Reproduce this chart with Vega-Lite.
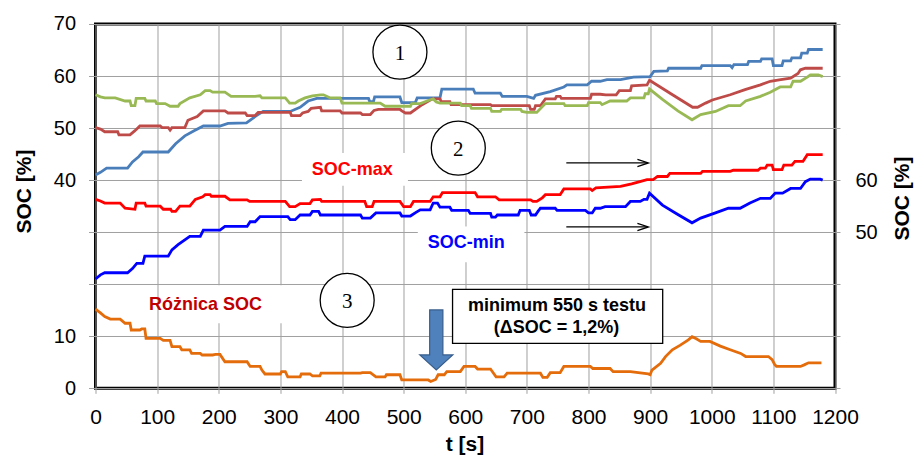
{
  "$schema": "https://vega.github.io/schema/vega-lite/v6.json",
  "width": 739.5,
  "height": 364.3,
  "autosize": {"type": "none"},
  "padding": {"left": 95.5, "top": 24, "right": 83, "bottom": 70},
  "config": {
    "font": "Liberation Sans",
    "view": {"stroke": "#000000", "strokeWidth": 3},
    "axis": {
      "domain": false,
      "gridColor": "#A0A0A0",
      "gridWidth": 1,
      "gridOpacity": 1,
      "tickColor": "#A0A0A0",
      "tickWidth": 1,
      "labelColor": "#000000",
      "labelFontSize": 20,
      "labelFont": "Liberation Sans",
      "titleFont": "Liberation Sans",
      "titleFontSize": 20,
      "titleFontWeight": "bold",
      "titleColor": "#000000",
      "labelOverlap": false
    }
  },
  "datasets": {
    "left": [
      {"s":"1","t":0,"v":41.0},{"s":"1","t":8,"v":41.5},{"s":"1","t":18,"v":42.3},{"s":"1","t":52,"v":42.3},{"s":"1","t":60,"v":43.5},{"s":"1","t":70,"v":44.5},{"s":"1","t":77,"v":45.4},{"s":"1","t":118,"v":45.4},{"s":"1","t":130,"v":47.0},{"s":"1","t":145,"v":48.5},{"s":"1","t":160,"v":49.5},{"s":"1","t":175,"v":50.4},{"s":"1","t":202,"v":50.4},{"s":"1","t":215,"v":50.9},{"s":"1","t":245,"v":51.0},{"s":"1","t":260,"v":52.3},{"s":"1","t":272,"v":53.2},{"s":"1","t":316,"v":53.2},{"s":"1","t":332,"v":54.0},{"s":"1","t":345,"v":55.2},{"s":"1","t":359,"v":55.7},{"s":"1","t":443,"v":55.7},{"s":"1","t":445,"v":55.1},{"s":"1","t":451,"v":55.1},{"s":"1","t":453,"v":56.0},{"s":"1","t":494,"v":56.0},{"s":"1","t":497,"v":54.9},{"s":"1","t":519,"v":54.9},{"s":"1","t":522,"v":55.8},{"s":"1","t":559,"v":55.8},{"s":"1","t":562,"v":57.5},{"s":"1","t":613,"v":57.5},{"s":"1","t":616,"v":56.7},{"s":"1","t":657,"v":56.7},{"s":"1","t":660,"v":56.1},{"s":"1","t":700,"v":56.1},{"s":"1","t":711,"v":55.7},{"s":"1","t":714,"v":56.3},{"s":"1","t":738,"v":57.0},{"s":"1","t":760,"v":57.9},{"s":"1","t":765,"v":58.3},{"s":"1","t":798,"v":58.3},{"s":"1","t":805,"v":59.0},{"s":"1","t":819,"v":59.0},{"s":"1","t":830,"v":59.3},{"s":"1","t":852,"v":59.3},{"s":"1","t":873,"v":59.8},{"s":"1","t":900,"v":59.9},{"s":"1","t":906,"v":60.9},{"s":"1","t":928,"v":61.0},{"s":"1","t":930,"v":61.5},{"s":"1","t":982,"v":61.5},{"s":"1","t":984,"v":62.0},{"s":"1","t":1030,"v":62.0},{"s":"1","t":1033,"v":61.6},{"s":"1","t":1036,"v":62.2},{"s":"1","t":1058,"v":62.2},{"s":"1","t":1060,"v":62.8},{"s":"1","t":1079,"v":62.8},{"s":"1","t":1081,"v":63.3},{"s":"1","t":1098,"v":63.3},{"s":"1","t":1100,"v":62.0},{"s":"1","t":1114,"v":62.0},{"s":"1","t":1116,"v":62.9},{"s":"1","t":1128,"v":62.9},{"s":"1","t":1130,"v":63.5},{"s":"1","t":1144,"v":63.5},{"s":"1","t":1146,"v":64.4},{"s":"1","t":1155,"v":64.4},{"s":"1","t":1157,"v":65.1},{"s":"1","t":1180,"v":65.1},
      {"s":"2","t":0,"v":50.1},{"s":"2","t":8,"v":49.8},{"s":"2","t":15,"v":49.3},{"s":"2","t":36,"v":49.3},{"s":"2","t":38,"v":48.7},{"s":"2","t":56,"v":48.7},{"s":"2","t":64,"v":49.5},{"s":"2","t":72,"v":50.4},{"s":"2","t":105,"v":50.4},{"s":"2","t":108,"v":50.1},{"s":"2","t":118,"v":50.1},{"s":"2","t":121,"v":49.6},{"s":"2","t":124,"v":50.1},{"s":"2","t":145,"v":50.1},{"s":"2","t":150,"v":51.5},{"s":"2","t":165,"v":52.2},{"s":"2","t":175,"v":53.3},{"s":"2","t":210,"v":53.3},{"s":"2","t":215,"v":52.9},{"s":"2","t":243,"v":52.9},{"s":"2","t":246,"v":52.4},{"s":"2","t":259,"v":52.4},{"s":"2","t":264,"v":53.0},{"s":"2","t":316,"v":53.0},{"s":"2","t":318,"v":52.4},{"s":"2","t":332,"v":52.4},{"s":"2","t":336,"v":52.9},{"s":"2","t":345,"v":53.2},{"s":"2","t":350,"v":53.8},{"s":"2","t":365,"v":54.0},{"s":"2","t":367,"v":53.3},{"s":"2","t":397,"v":53.3},{"s":"2","t":400,"v":52.9},{"s":"2","t":430,"v":52.9},{"s":"2","t":433,"v":52.6},{"s":"2","t":446,"v":52.6},{"s":"2","t":452,"v":53.4},{"s":"2","t":459,"v":53.6},{"s":"2","t":494,"v":53.6},{"s":"2","t":497,"v":53.3},{"s":"2","t":503,"v":52.9},{"s":"2","t":511,"v":52.9},{"s":"2","t":530,"v":54.5},{"s":"2","t":546,"v":55.6},{"s":"2","t":559,"v":55.6},{"s":"2","t":561,"v":55.1},{"s":"2","t":575,"v":55.1},{"s":"2","t":577,"v":54.5},{"s":"2","t":641,"v":54.5},{"s":"2","t":643,"v":54.3},{"s":"2","t":704,"v":54.3},{"s":"2","t":706,"v":53.6},{"s":"2","t":712,"v":53.6},{"s":"2","t":714,"v":54.3},{"s":"2","t":722,"v":54.3},{"s":"2","t":730,"v":55.6},{"s":"2","t":746,"v":55.6},{"s":"2","t":748,"v":56.1},{"s":"2","t":754,"v":56.1},{"s":"2","t":756,"v":55.7},{"s":"2","t":803,"v":55.7},{"s":"2","t":805,"v":56.5},{"s":"2","t":819,"v":56.5},{"s":"2","t":828,"v":56.4},{"s":"2","t":845,"v":56.4},{"s":"2","t":850,"v":57.2},{"s":"2","t":868,"v":57.2},{"s":"2","t":870,"v":58.1},{"s":"2","t":895,"v":58.3},{"s":"2","t":899,"v":59.2},{"s":"2","t":935,"v":56.5},{"s":"2","t":969,"v":54.0},{"s":"2","t":977,"v":54.0},{"s":"2","t":990,"v":54.8},{"s":"2","t":1001,"v":55.4},{"s":"2","t":1030,"v":56.4},{"s":"2","t":1054,"v":57.4},{"s":"2","t":1079,"v":58.3},{"s":"2","t":1095,"v":59.0},{"s":"2","t":1112,"v":59.3},{"s":"2","t":1128,"v":59.6},{"s":"2","t":1140,"v":60.5},{"s":"2","t":1144,"v":61.2},{"s":"2","t":1152,"v":61.5},{"s":"2","t":1180,"v":61.5},
      {"s":"3","t":0,"v":56.4},{"s":"3","t":8,"v":56.0},{"s":"3","t":15,"v":55.8},{"s":"3","t":32,"v":55.8},{"s":"3","t":48,"v":55.2},{"s":"3","t":56,"v":55.2},{"s":"3","t":58,"v":54.3},{"s":"3","t":64,"v":54.3},{"s":"3","t":66,"v":55.7},{"s":"3","t":80,"v":55.7},{"s":"3","t":82,"v":55.2},{"s":"3","t":97,"v":55.2},{"s":"3","t":99,"v":54.7},{"s":"3","t":113,"v":54.7},{"s":"3","t":121,"v":54.2},{"s":"3","t":134,"v":54.2},{"s":"3","t":137,"v":54.7},{"s":"3","t":153,"v":55.8},{"s":"3","t":170,"v":56.4},{"s":"3","t":178,"v":57.2},{"s":"3","t":186,"v":57.2},{"s":"3","t":190,"v":56.9},{"s":"3","t":210,"v":56.9},{"s":"3","t":220,"v":56.1},{"s":"3","t":259,"v":56.1},{"s":"3","t":267,"v":56.2},{"s":"3","t":270,"v":55.8},{"s":"3","t":308,"v":55.8},{"s":"3","t":315,"v":54.8},{"s":"3","t":324,"v":54.8},{"s":"3","t":329,"v":55.2},{"s":"3","t":340,"v":55.8},{"s":"3","t":352,"v":56.2},{"s":"3","t":365,"v":56.4},{"s":"3","t":370,"v":56.4},{"s":"3","t":381,"v":55.8},{"s":"3","t":397,"v":55.8},{"s":"3","t":400,"v":54.8},{"s":"3","t":462,"v":54.8},{"s":"3","t":470,"v":54.2},{"s":"3","t":511,"v":54.2},{"s":"3","t":513,"v":54.7},{"s":"3","t":527,"v":54.7},{"s":"3","t":540,"v":55.3},{"s":"3","t":548,"v":55.6},{"s":"3","t":553,"v":55.0},{"s":"3","t":559,"v":54.8},{"s":"3","t":592,"v":54.8},{"s":"3","t":594,"v":54.3},{"s":"3","t":608,"v":54.3},{"s":"3","t":610,"v":53.8},{"s":"3","t":641,"v":53.8},{"s":"3","t":643,"v":53.2},{"s":"3","t":657,"v":53.2},{"s":"3","t":659,"v":53.6},{"s":"3","t":690,"v":53.6},{"s":"3","t":692,"v":53.2},{"s":"3","t":700,"v":53.0},{"s":"3","t":716,"v":53.0},{"s":"3","t":724,"v":54.0},{"s":"3","t":730,"v":54.7},{"s":"3","t":760,"v":54.7},{"s":"3","t":762,"v":54.3},{"s":"3","t":798,"v":54.3},{"s":"3","t":800,"v":54.9},{"s":"3","t":819,"v":54.9},{"s":"3","t":822,"v":54.5},{"s":"3","t":835,"v":55.2},{"s":"3","t":862,"v":55.2},{"s":"3","t":868,"v":55.8},{"s":"3","t":890,"v":55.8},{"s":"3","t":892,"v":56.6},{"s":"3","t":897,"v":56.6},{"s":"3","t":899,"v":57.5},{"s":"3","t":920,"v":55.5},{"s":"3","t":945,"v":53.3},{"s":"3","t":968,"v":51.6},{"s":"3","t":982,"v":52.6},{"s":"3","t":1006,"v":53.2},{"s":"3","t":1027,"v":54.3},{"s":"3","t":1046,"v":54.3},{"s":"3","t":1055,"v":55.2},{"s":"3","t":1079,"v":56.1},{"s":"3","t":1095,"v":56.9},{"s":"3","t":1111,"v":57.9},{"s":"3","t":1128,"v":57.9},{"s":"3","t":1132,"v":59.0},{"s":"3","t":1144,"v":59.0},{"s":"3","t":1155,"v":59.8},{"s":"3","t":1160,"v":60.2},{"s":"3","t":1173,"v":60.2},{"s":"3","t":1180,"v":59.9},
      {"s":"d","t":0,"v":15.2},{"s":"d","t":8,"v":14.5},{"s":"d","t":15,"v":13.8},{"s":"d","t":24,"v":13.3},{"s":"d","t":40,"v":13.3},{"s":"d","t":48,"v":12.5},{"s":"d","t":56,"v":12.5},{"s":"d","t":58,"v":11.2},{"s":"d","t":72,"v":11.2},{"s":"d","t":75,"v":11.4},{"s":"d","t":80,"v":11.4},{"s":"d","t":82,"v":9.6},{"s":"d","t":105,"v":9.6},{"s":"d","t":110,"v":9.2},{"s":"d","t":121,"v":9.2},{"s":"d","t":124,"v":8.0},{"s":"d","t":137,"v":8.0},{"s":"d","t":140,"v":7.4},{"s":"d","t":153,"v":7.4},{"s":"d","t":156,"v":6.7},{"s":"d","t":170,"v":6.7},{"s":"d","t":173,"v":6.4},{"s":"d","t":190,"v":6.4},{"s":"d","t":195,"v":6.5},{"s":"d","t":202,"v":6.5},{"s":"d","t":210,"v":5.1},{"s":"d","t":246,"v":5.1},{"s":"d","t":251,"v":4.2},{"s":"d","t":267,"v":4.2},{"s":"d","t":270,"v":3.5},{"s":"d","t":275,"v":2.75},{"s":"d","t":300,"v":2.75},{"s":"d","t":302,"v":3.2},{"s":"d","t":308,"v":3.2},{"s":"d","t":312,"v":2.2},{"s":"d","t":332,"v":2.2},{"s":"d","t":334,"v":2.75},{"s":"d","t":348,"v":2.75},{"s":"d","t":352,"v":2.4},{"s":"d","t":364,"v":2.4},{"s":"d","t":366,"v":2.9},{"s":"d","t":430,"v":2.9},{"s":"d","t":433,"v":3.0},{"s":"d","t":446,"v":3.0},{"s":"d","t":455,"v":2.2},{"s":"d","t":470,"v":2.2},{"s":"d","t":472,"v":2.6},{"s":"d","t":494,"v":2.6},{"s":"d","t":497,"v":1.6},{"s":"d","t":540,"v":1.6},{"s":"d","t":544,"v":1.3},{"s":"d","t":552,"v":1.7},{"s":"d","t":556,"v":2.6},{"s":"d","t":566,"v":2.6},{"s":"d","t":570,"v":3.2},{"s":"d","t":592,"v":3.2},{"s":"d","t":598,"v":4.2},{"s":"d","t":616,"v":4.2},{"s":"d","t":620,"v":3.7},{"s":"d","t":641,"v":3.7},{"s":"d","t":650,"v":2.2},{"s":"d","t":663,"v":2.2},{"s":"d","t":668,"v":2.9},{"s":"d","t":722,"v":2.9},{"s":"d","t":726,"v":2.1},{"s":"d","t":733,"v":2.1},{"s":"d","t":738,"v":3.0},{"s":"d","t":754,"v":3.0},{"s":"d","t":760,"v":4.2},{"s":"d","t":803,"v":4.2},{"s":"d","t":807,"v":3.8},{"s":"d","t":835,"v":3.8},{"s":"d","t":840,"v":3.2},{"s":"d","t":868,"v":3.2},{"s":"d","t":897,"v":2.75},{"s":"d","t":900,"v":2.6},{"s":"d","t":903,"v":3.5},{"s":"d","t":917,"v":4.8},{"s":"d","t":925,"v":6.1},{"s":"d","t":936,"v":7.4},{"s":"d","t":949,"v":8.3},{"s":"d","t":962,"v":9.3},{"s":"d","t":968,"v":9.9},{"s":"d","t":975,"v":9.5},{"s":"d","t":982,"v":9.0},{"s":"d","t":997,"v":9.0},{"s":"d","t":1014,"v":8.1},{"s":"d","t":1030,"v":7.4},{"s":"d","t":1047,"v":6.7},{"s":"d","t":1055,"v":6.1},{"s":"d","t":1092,"v":6.1},{"s":"d","t":1098,"v":5.5},{"s":"d","t":1102,"v":4.6},{"s":"d","t":1105,"v":4.2},{"s":"d","t":1144,"v":4.2},{"s":"d","t":1150,"v":4.5},{"s":"d","t":1157,"v":4.9},{"s":"d","t":1178,"v":4.9}
    ],
    "right": [
      {"s":"max","t":0,"v":56.3},{"s":"max","t":8,"v":56.0},{"s":"max","t":15,"v":55.6},{"s":"max","t":40,"v":55.6},{"s":"max","t":48,"v":54.6},{"s":"max","t":64,"v":54.4},{"s":"max","t":66,"v":55.6},{"s":"max","t":80,"v":55.6},{"s":"max","t":82,"v":55.0},{"s":"max","t":105,"v":55.0},{"s":"max","t":110,"v":54.4},{"s":"max","t":122,"v":54.4},{"s":"max","t":124,"v":54.0},{"s":"max","t":130,"v":54.0},{"s":"max","t":137,"v":55.0},{"s":"max","t":153,"v":55.0},{"s":"max","t":162,"v":56.3},{"s":"max","t":174,"v":56.8},{"s":"max","t":178,"v":57.2},{"s":"max","t":186,"v":57.2},{"s":"max","t":188,"v":56.9},{"s":"max","t":210,"v":56.9},{"s":"max","t":218,"v":56.2},{"s":"max","t":246,"v":56.2},{"s":"max","t":250,"v":55.9},{"s":"max","t":308,"v":55.9},{"s":"max","t":315,"v":54.9},{"s":"max","t":324,"v":54.9},{"s":"max","t":332,"v":55.5},{"s":"max","t":348,"v":55.5},{"s":"max","t":352,"v":56.2},{"s":"max","t":365,"v":56.3},{"s":"max","t":367,"v":55.9},{"s":"max","t":437,"v":55.9},{"s":"max","t":440,"v":54.9},{"s":"max","t":449,"v":54.9},{"s":"max","t":452,"v":55.9},{"s":"max","t":494,"v":55.9},{"s":"max","t":500,"v":54.9},{"s":"max","t":511,"v":54.9},{"s":"max","t":516,"v":55.9},{"s":"max","t":543,"v":55.9},{"s":"max","t":548,"v":56.8},{"s":"max","t":559,"v":56.8},{"s":"max","t":563,"v":57.6},{"s":"max","t":616,"v":57.6},{"s":"max","t":620,"v":56.8},{"s":"max","t":649,"v":56.8},{"s":"max","t":655,"v":56.2},{"s":"max","t":706,"v":56.2},{"s":"max","t":710,"v":55.9},{"s":"max","t":716,"v":55.9},{"s":"max","t":725,"v":56.6},{"s":"max","t":730,"v":57.2},{"s":"max","t":754,"v":57.2},{"s":"max","t":760,"v":58.3},{"s":"max","t":803,"v":58.3},{"s":"max","t":806,"v":58.0},{"s":"max","t":812,"v":58.5},{"s":"max","t":852,"v":58.8},{"s":"max","t":870,"v":59.3},{"s":"max","t":895,"v":60.1},{"s":"max","t":905,"v":60.1},{"s":"max","t":912,"v":60.7},{"s":"max","t":928,"v":60.7},{"s":"max","t":932,"v":61.3},{"s":"max","t":982,"v":61.3},{"s":"max","t":985,"v":61.7},{"s":"max","t":1030,"v":61.7},{"s":"max","t":1035,"v":61.9},{"s":"max","t":1075,"v":61.9},{"s":"max","t":1079,"v":62.3},{"s":"max","t":1087,"v":62.3},{"s":"max","t":1090,"v":62.9},{"s":"max","t":1098,"v":62.9},{"s":"max","t":1100,"v":62.0},{"s":"max","t":1114,"v":62.0},{"s":"max","t":1117,"v":62.9},{"s":"max","t":1130,"v":62.9},{"s":"max","t":1135,"v":63.6},{"s":"max","t":1148,"v":63.6},{"s":"max","t":1155,"v":64.9},{"s":"max","t":1180,"v":64.9},
      {"s":"min","t":0,"v":41.0},{"s":"min","t":8,"v":41.8},{"s":"min","t":15,"v":42.2},{"s":"min","t":52,"v":42.2},{"s":"min","t":60,"v":43.0},{"s":"min","t":67,"v":44.0},{"s":"min","t":77,"v":44.0},{"s":"min","t":80,"v":45.4},{"s":"min","t":118,"v":45.4},{"s":"min","t":124,"v":46.6},{"s":"min","t":134,"v":47.6},{"s":"min","t":153,"v":49.2},{"s":"min","t":170,"v":49.2},{"s":"min","t":175,"v":50.4},{"s":"min","t":202,"v":50.4},{"s":"min","t":210,"v":51.1},{"s":"min","t":246,"v":51.1},{"s":"min","t":251,"v":52.0},{"s":"min","t":259,"v":52.0},{"s":"min","t":267,"v":53.0},{"s":"min","t":312,"v":53.0},{"s":"min","t":316,"v":52.4},{"s":"min","t":324,"v":52.4},{"s":"min","t":332,"v":53.3},{"s":"min","t":348,"v":53.3},{"s":"min","t":352,"v":54.0},{"s":"min","t":362,"v":54.0},{"s":"min","t":365,"v":53.3},{"s":"min","t":430,"v":53.3},{"s":"min","t":433,"v":52.7},{"s":"min","t":446,"v":52.7},{"s":"min","t":455,"v":53.7},{"s":"min","t":494,"v":53.7},{"s":"min","t":497,"v":53.1},{"s":"min","t":511,"v":53.1},{"s":"min","t":520,"v":53.8},{"s":"min","t":527,"v":54.3},{"s":"min","t":543,"v":54.3},{"s":"min","t":548,"v":55.6},{"s":"min","t":555,"v":55.6},{"s":"min","t":559,"v":54.8},{"s":"min","t":575,"v":54.8},{"s":"min","t":578,"v":54.2},{"s":"min","t":605,"v":54.2},{"s":"min","t":608,"v":53.6},{"s":"min","t":641,"v":53.6},{"s":"min","t":643,"v":52.9},{"s":"min","t":649,"v":52.9},{"s":"min","t":652,"v":53.3},{"s":"min","t":686,"v":53.3},{"s":"min","t":689,"v":54.2},{"s":"min","t":704,"v":54.2},{"s":"min","t":707,"v":53.3},{"s":"min","t":714,"v":53.3},{"s":"min","t":718,"v":54.0},{"s":"min","t":722,"v":54.6},{"s":"min","t":746,"v":54.6},{"s":"min","t":749,"v":54.2},{"s":"min","t":795,"v":54.2},{"s":"min","t":800,"v":53.7},{"s":"min","t":806,"v":53.7},{"s":"min","t":811,"v":54.6},{"s":"min","t":819,"v":54.6},{"s":"min","t":827,"v":54.9},{"s":"min","t":860,"v":54.9},{"s":"min","t":868,"v":55.9},{"s":"min","t":884,"v":55.9},{"s":"min","t":890,"v":56.3},{"s":"min","t":895,"v":56.3},{"s":"min","t":899,"v":57.5},{"s":"min","t":920,"v":55.2},{"s":"min","t":945,"v":53.4},{"s":"min","t":968,"v":51.8},{"s":"min","t":982,"v":52.7},{"s":"min","t":1006,"v":53.7},{"s":"min","t":1027,"v":54.6},{"s":"min","t":1046,"v":54.6},{"s":"min","t":1062,"v":55.6},{"s":"min","t":1079,"v":56.5},{"s":"min","t":1095,"v":56.5},{"s":"min","t":1103,"v":57.5},{"s":"min","t":1115,"v":57.5},{"s":"min","t":1128,"v":58.4},{"s":"min","t":1144,"v":58.4},{"s":"min","t":1152,"v":59.7},{"s":"min","t":1160,"v":60.2},{"s":"min","t":1176,"v":60.2},{"s":"min","t":1180,"v":60.0}
    ]
  },
  "layer": [
    {
      "layer": [
        {
          "data": {"name": "left"},
          "mark": {"type": "line", "strokeWidth": 2.8, "strokeJoin": "miter"},
          "encoding": {
            "x": {"field": "t", "type": "quantitative", "scale": {"domain": [0, 1200], "nice": false},
              "axis": {"values": [0,100,200,300,400,500,600,700,800,900,1000,1100,1200], "format": "d", "labelFontSize": 21, "title": "t [s]", "titleFontSize": 21, "grid": true, "tickSize": 5, "labelPadding": 13, "labelFlush": false, "titleX": 369, "titleY": 56, "titleBaseline": "middle", "titleAlign": "center"}},
            "y": {"field": "v", "type": "quantitative", "scale": {"domain": [0, 70], "nice": false},
              "axis": {"values": [0,10,20,30,40,50,60,70], "labelExpr": "datum.value == 20 || datum.value == 30 ? '' : datum.label", "title": "SOC [%]", "titleFontSize": 21, "grid": true, "tickSize": 7, "labelPadding": 13, "titleAngle": 270, "titleX": -71, "titleY": 167, "titleAlign": "center", "titleBaseline": "middle"}},
            "color": {"field": "s", "type": "nominal", "legend": null,
              "scale": {"domain": ["1","2","3","d","max","min"], "range": ["#4A7EBB","#BE4B48","#98B954","#E46C0A","#FF0000","#0000FF"]}},
            "detail": {"field": "s"}
          }
        },
        {
          "data": {"values": [
            {"t1": 335, "t2": 507, "v1": 38.9, "v2": 45.2},
            {"t1": 523, "t2": 696, "v1": 24.2, "v2": 31.1},
            {"t1": 130, "t2": 316, "v1": 12.5, "v2": 19.8}
          ]},
          "mark": {"type": "rect", "fill": "#FFFFFF", "strokeWidth": 0},
          "encoding": {
            "x": {"field": "t1", "type": "quantitative", "scale": {"domain": [0, 1200], "nice": false}},
            "x2": {"field": "t2"},
            "y": {"field": "v1", "type": "quantitative", "scale": {"domain": [0, 70], "nice": false}},
            "y2": {"field": "v2"}
          }
        },
        {
          "data": {"values": [{"t1": 579.4, "t2": 920.4, "v1": 8.65, "v2": 19.0}]},
          "mark": {"type": "rect", "fill": "#FFFFFF", "stroke": "#000000", "strokeWidth": 1.3},
          "encoding": {
            "x": {"field": "t1", "type": "quantitative", "scale": {"domain": [0, 1200], "nice": false}},
            "x2": {"field": "t2"},
            "y": {"field": "v1", "type": "quantitative", "scale": {"domain": [0, 70], "nice": false}},
            "y2": {"field": "v2"}
          }
        },
        {
          "data": {"values": [
            {"t": 494, "v": 64.6, "n": "1"},
            {"t": 588.7, "v": 46.15, "n": "2"},
            {"t": 408.4, "v": 16.9, "n": "3"}
          ]},
          "mark": {"type": "point", "shape": "circle", "size": 2916, "filled": true, "fill": "#FFFFFF", "stroke": "#000000", "strokeWidth": 1.3, "opacity": 1},
          "encoding": {
            "x": {"field": "t", "type": "quantitative", "scale": {"domain": [0, 1200], "nice": false}},
            "y": {"field": "v", "type": "quantitative", "scale": {"domain": [0, 70], "nice": false}}
          }
        },
        {
          "data": {"values": [
            {"t": 494, "v": 64.6, "n": "1"},
            {"t": 588.7, "v": 46.15, "n": "2"},
            {"t": 408.4, "v": 16.9, "n": "3"}
          ]},
          "mark": {"type": "text", "font": "Liberation Serif", "fontSize": 21, "color": "#000000", "align": "center", "baseline": "middle", "dy": 2},
          "encoding": {
            "x": {"field": "t", "type": "quantitative", "scale": {"domain": [0, 1200], "nice": false}},
            "y": {"field": "v", "type": "quantitative", "scale": {"domain": [0, 70], "nice": false}},
            "text": {"field": "n", "type": "nominal"}
          }
        },
        {
          "data": {"values": [
            {"t": 416.5, "v": 41.9, "label": "SOC-max", "c": "#FF0000"},
            {"t": 601.6, "v": 27.9, "label": "SOC-min", "c": "#0000FF"},
            {"t": 178.6, "v": 16.1, "label": "Różnica SOC", "c": "#C00000"},
            {"t": 749, "v": 15.9, "label": "minimum 550 s testu", "c": "#000000"},
            {"t": 748, "v": 11.5, "label": "(ΔSOC = 1,2%)", "c": "#000000"}
          ]},
          "mark": {"type": "text", "fontSize": 18, "fontWeight": "bold", "align": "center", "baseline": "middle"},
          "encoding": {
            "x": {"field": "t", "type": "quantitative", "scale": {"domain": [0, 1200], "nice": false}},
            "y": {"field": "v", "type": "quantitative", "scale": {"domain": [0, 70], "nice": false}},
            "text": {"field": "label", "type": "nominal"},
            "color": {"field": "c", "type": "nominal", "scale": null}
          }
        },
        {
          "data": {"values": [{"t": 553, "v": 9.3}]},
          "mark": {"type": "point", "shape": "M -0.22 -1 L 0.22 -1 L 0.22 0.5 L 0.55 0.5 L 0 1 L -0.55 0.5 L -0.22 0.5 Z", "size": 3600, "filled": true, "fill": "#4F81BD", "stroke": "#385D8A", "strokeWidth": 1.2, "opacity": 1},
          "encoding": {
            "x": {"field": "t", "type": "quantitative", "scale": {"domain": [0, 1200], "nice": false}},
            "y": {"field": "v", "type": "quantitative", "scale": {"domain": [0, 70], "nice": false}}
          }
        }
      ]
    },
    {
      "layer": [
        {
          "data": {"name": "right"},
          "mark": {"type": "line", "strokeWidth": 2.8, "strokeJoin": "miter"},
          "encoding": {
            "x": {"field": "t", "type": "quantitative", "scale": {"domain": [0, 1200], "nice": false}},
            "y": {"field": "v", "type": "quantitative", "scale": {"domain": [20, 90], "nice": false},
              "axis": {"orient": "right", "values": [20,30,40,50,60,70,80,90], "labelExpr": "datum.value == 50 || datum.value == 60 ? datum.label : ''", "grid": false, "tickSize": 5, "labelPadding": 15, "title": "SOC [%]", "titleFontSize": 21, "titleAngle": 270, "titleX": 67.5, "titleY": 174, "titleAlign": "center", "titleBaseline": "middle"}},
            "color": {"field": "s", "type": "nominal", "legend": null,
              "scale": {"domain": ["1","2","3","d","max","min"], "range": ["#4A7EBB","#BE4B48","#98B954","#E46C0A","#FF0000","#0000FF"]}},
            "detail": {"field": "s"}
          }
        },
        {
          "data": {"values": [
            {"t1": 764, "t2": 896, "v": 63.3},
            {"t1": 764, "t2": 896, "v": 51.0}
          ]},
          "mark": {"type": "rule", "color": "#000000", "strokeWidth": 1.3},
          "encoding": {
            "x": {"field": "t1", "type": "quantitative", "scale": {"domain": [0, 1200], "nice": false}},
            "x2": {"field": "t2"},
            "y": {"field": "v", "type": "quantitative", "scale": {"domain": [20, 90], "nice": false}}
          }
        },
        {
          "data": {"values": [
            {"t": 888.3, "v": 63.3},
            {"t": 888.3, "v": 51.0}
          ]},
          "mark": {"type": "point", "shape": "M -1 -0.65 L 1 0 L -1 0.65", "size": 121, "filled": false, "fill": null, "stroke": "#000000", "strokeWidth": 1.3, "opacity": 1},
          "encoding": {
            "x": {"field": "t", "type": "quantitative", "scale": {"domain": [0, 1200], "nice": false}},
            "y": {"field": "v", "type": "quantitative", "scale": {"domain": [20, 90], "nice": false}}
          }
        }
      ]
    }
  ],
  "resolve": {"scale": {"y": "independent"}}
}
